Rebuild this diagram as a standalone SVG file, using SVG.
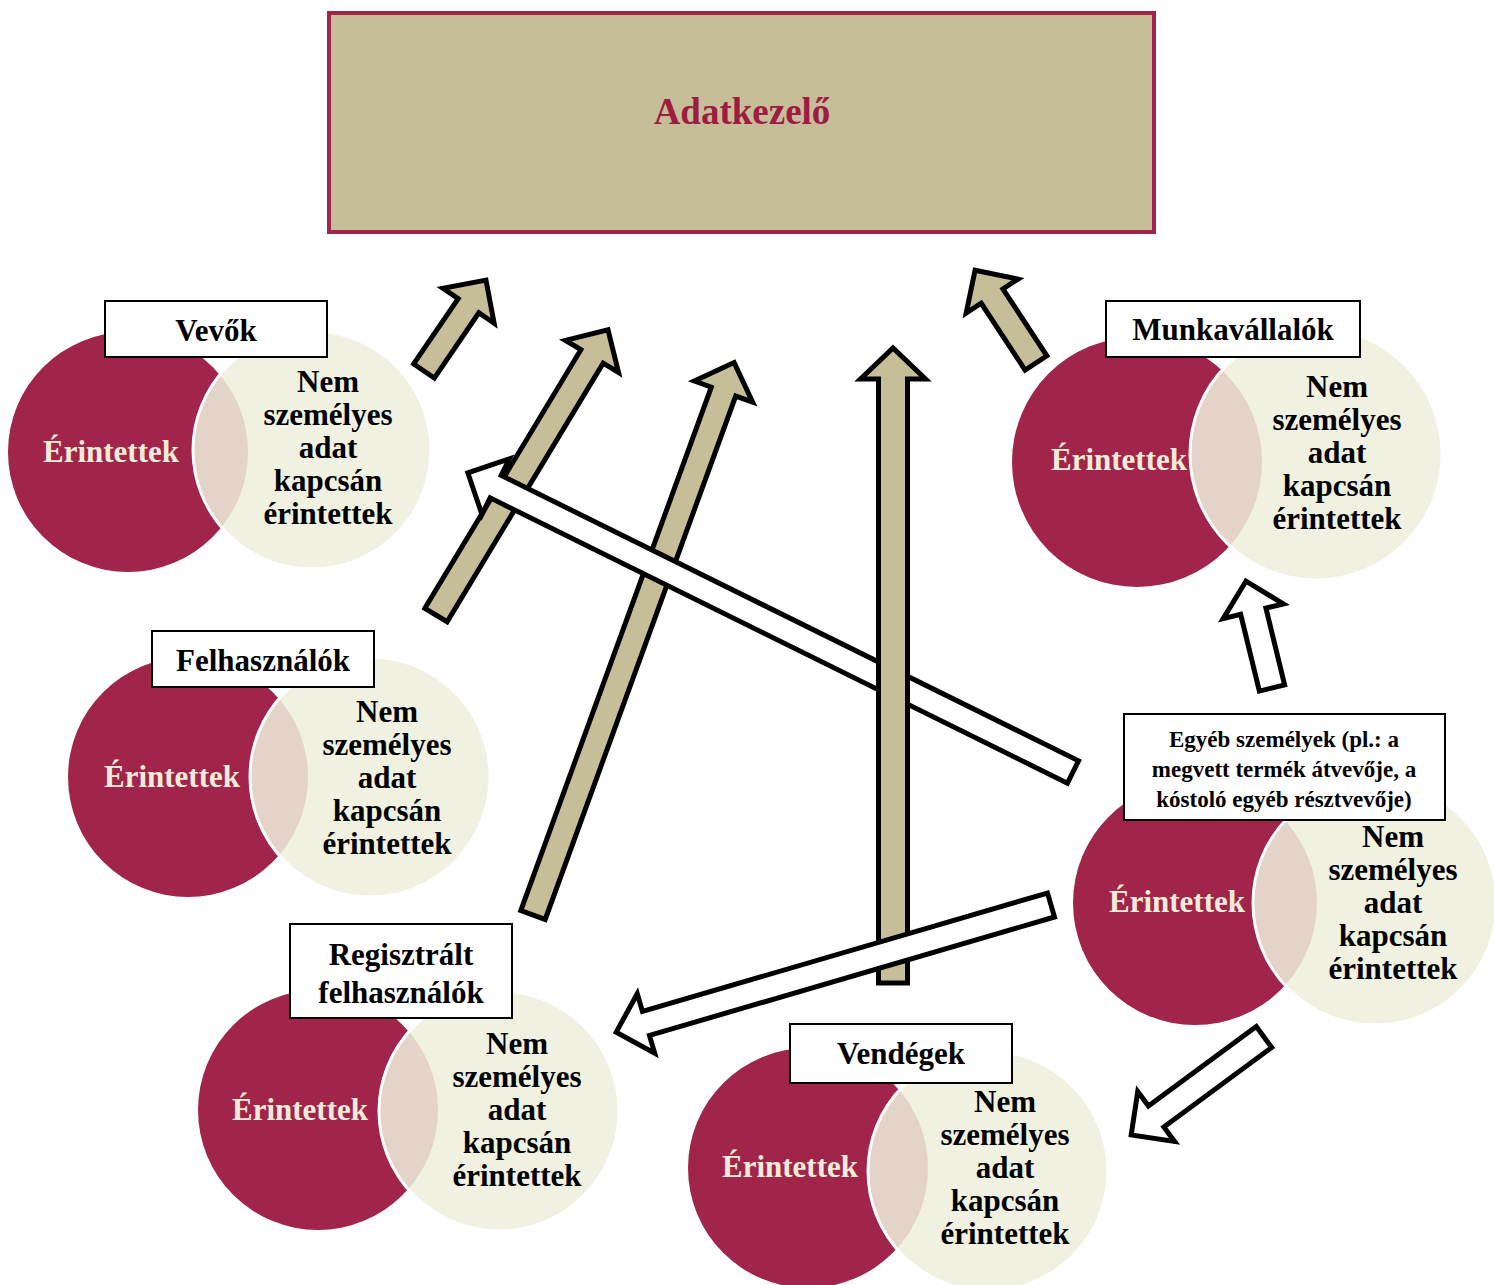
<svg xmlns="http://www.w3.org/2000/svg" width="1494" height="1285" viewBox="0 0 1494 1285">
<style>
.red{fill:#A1244A}
.cream{fill:#F1F1E1;stroke:#FFFFFF;stroke-width:3}
.lens{fill:#E4D3C8}
.lab{fill:#FFFFFF;stroke:#000000;stroke-width:2}
.t{font-family:"Liberation Serif","Times New Roman",serif;font-weight:bold;text-anchor:middle}
.er{font-size:31px;fill:#F3EBDA}
.nem{font-size:31px;fill:#000000}
.lt{font-size:31px;fill:#000000}
.tan{fill:#C5BE99;stroke:#000000;stroke-width:5;stroke-linejoin:miter;stroke-miterlimit:10}
.wh{fill:#FFFFFF;stroke:#000000;stroke-width:5;stroke-linejoin:miter;stroke-miterlimit:10}
</style>
<defs>
<clipPath id="c1"><circle cx="312" cy="450" r="117.5"/></clipPath>
<clipPath id="c2"><circle cx="370" cy="777" r="118.5"/></clipPath>
<clipPath id="c3"><circle cx="499" cy="1111" r="118.5"/></clipPath>
<clipPath id="c4"><circle cx="988" cy="1171" r="118.5"/></clipPath>
<clipPath id="c5"><circle cx="1316" cy="454" r="124.5"/></clipPath>
<clipPath id="c6"><circle cx="1375" cy="903" r="120.5"/></clipPath>
</defs>
<rect width="1494" height="1285" fill="#FFFFFF"/>

<g id="adatkezelo">
<rect x="329" y="13" width="825" height="219" fill="#C5BE99" stroke="#A1244A" stroke-width="4"/>
<text class="t" x="742" y="124" font-size="37" fill="#9E1C42">Adatkezelő</text>
</g>

<g id="vevok">
<circle class="red" cx="128" cy="452" r="120"/>
<circle class="cream" cx="312" cy="450" r="119"/>
<circle class="lens" cx="128" cy="452" r="120" clip-path="url(#c1)"/>
<rect class="lab" x="105" y="301" width="222" height="56"/>
<text class="t lt" x="216" y="341">Vevők</text>
<text class="t er" x="111" y="462">Érintettek</text>
<text class="t nem" x="328"><tspan x="328" y="392">Nem</tspan><tspan x="328" y="425">személyes</tspan><tspan x="328" y="458">adat</tspan><tspan x="328" y="491">kapcsán</tspan><tspan x="328" y="524">érintettek</tspan></text>
</g>

<g id="felhasznalok">
<circle class="red" cx="188" cy="777" r="120"/>
<circle class="cream" cx="370" cy="777" r="120"/>
<circle class="lens" cx="188" cy="777" r="120" clip-path="url(#c2)"/>
<rect class="lab" x="152" y="631" width="222" height="56"/>
<text class="t lt" x="263" y="671">Felhasználók</text>
<text class="t er" x="172" y="787">Érintettek</text>
<text class="t nem"><tspan x="387" y="722">Nem</tspan><tspan x="387" y="755">személyes</tspan><tspan x="387" y="788">adat</tspan><tspan x="387" y="821">kapcsán</tspan><tspan x="387" y="854">érintettek</tspan></text>
</g>

<g id="regisztralt">
<circle class="red" cx="318" cy="1110" r="120"/>
<circle class="cream" cx="499" cy="1111" r="120"/>
<circle class="lens" cx="318" cy="1110" r="120" clip-path="url(#c3)"/>
<rect class="lab" x="290" y="924" width="222" height="94"/>
<text class="t lt"><tspan x="401" y="965">Regisztrált</tspan><tspan x="401" y="1003">felhasználók</tspan></text>
<text class="t er" x="300" y="1120">Érintettek</text>
<text class="t nem"><tspan x="517" y="1054">Nem</tspan><tspan x="517" y="1087">személyes</tspan><tspan x="517" y="1120">adat</tspan><tspan x="517" y="1153">kapcsán</tspan><tspan x="517" y="1186">érintettek</tspan></text>
</g>

<g id="vendegek">
<circle class="red" cx="808" cy="1168" r="120"/>
<circle class="cream" cx="988" cy="1171" r="120"/>
<circle class="lens" cx="808" cy="1168" r="120" clip-path="url(#c4)"/>
<rect class="lab" x="790" y="1024" width="222" height="59"/>
<text class="t lt" x="901" y="1064">Vendégek</text>
<text class="t er" x="790" y="1177">Érintettek</text>
<text class="t nem"><tspan x="1005" y="1112">Nem</tspan><tspan x="1005" y="1145">személyes</tspan><tspan x="1005" y="1178">adat</tspan><tspan x="1005" y="1211">kapcsán</tspan><tspan x="1005" y="1244">érintettek</tspan></text>
</g>

<g id="munkavallalok">
<circle class="red" cx="1137" cy="462" r="125"/>
<circle class="cream" cx="1316" cy="454" r="126"/>
<circle class="lens" cx="1137" cy="462" r="125" clip-path="url(#c5)"/>
<rect class="lab" x="1106" y="301" width="254" height="56"/>
<text class="t lt" x="1233" y="340">Munkavállalók</text>
<text class="t er" x="1119" y="470">Érintettek</text>
<text class="t nem"><tspan x="1337" y="397">Nem</tspan><tspan x="1337" y="430">személyes</tspan><tspan x="1337" y="463">adat</tspan><tspan x="1337" y="496">kapcsán</tspan><tspan x="1337" y="529">érintettek</tspan></text>
</g>

<g id="egyeb">
<circle class="red" cx="1195" cy="903" r="122"/>
<circle class="cream" cx="1375" cy="903" r="122"/>
<circle class="lens" cx="1195" cy="903" r="122" clip-path="url(#c6)"/>
<rect class="lab" x="1124" y="714" width="321" height="106"/>
<text class="t" font-size="23" fill="#000000"><tspan x="1284" y="747">Egyéb személyek (pl.: a</tspan><tspan x="1284" y="777">megvett termék átvevője, a</tspan><tspan x="1284" y="807">kóstoló egyéb résztvevője)</tspan></text>
<text class="t er" x="1177" y="912">Érintettek</text>
<text class="t nem"><tspan x="1393" y="847">Nem</tspan><tspan x="1393" y="880">személyes</tspan><tspan x="1393" y="913">adat</tspan><tspan x="1393" y="946">kapcsán</tspan><tspan x="1393" y="979">érintettek</tspan></text>
</g>

<g id="connectors">
<polygon class="tan" transform="translate(424,371) rotate(-55.7)" points="0,-12.5 79,-12.5 79,-31 110,0 79,31 79,12.5 0,12.5"/>
<polygon class="tan" transform="translate(436,615) rotate(-58.9)" points="0,-13 302,-13 302,-31 333,0 302,31 302,13 0,13"/>
<polygon class="tan" transform="translate(533,915) rotate(-70)" points="0,-13 557,-13 557,-31 588,0 557,31 557,13 0,13"/>
<polygon class="tan" transform="translate(1036,363) rotate(-123.3)" points="0,-13 80,-13 80,-31 111,0 80,31 80,13 0,13"/>
<polygon class="wh" transform="translate(1073,772) rotate(-153.7)" points="0,-12.5 644,-12.5 644,-31 675,0 644,31 644,12.5 0,12.5"/>
<polygon class="tan" transform="translate(893,983) rotate(-90)" points="0,-14.5 604,-14.5 604,-32.5 635,0 604,32.5 604,14.5 0,14.5"/>
<polygon class="wh" transform="translate(1051,905) rotate(163.7)" points="0,-12.5 422,-12.5 422,-31 453,0 422,31 422,12.5 0,12.5"/>
<polygon class="wh" transform="translate(1272,688) rotate(-103.7)" points="0,-13 79,-13 79,-31 110,0 79,31 79,13 0,13"/>
<polygon class="wh" transform="translate(1264,1037) rotate(143.6)" points="0,-13 134,-13 134,-31 165,0 134,31 134,13 0,13"/>
</g>
</svg>
